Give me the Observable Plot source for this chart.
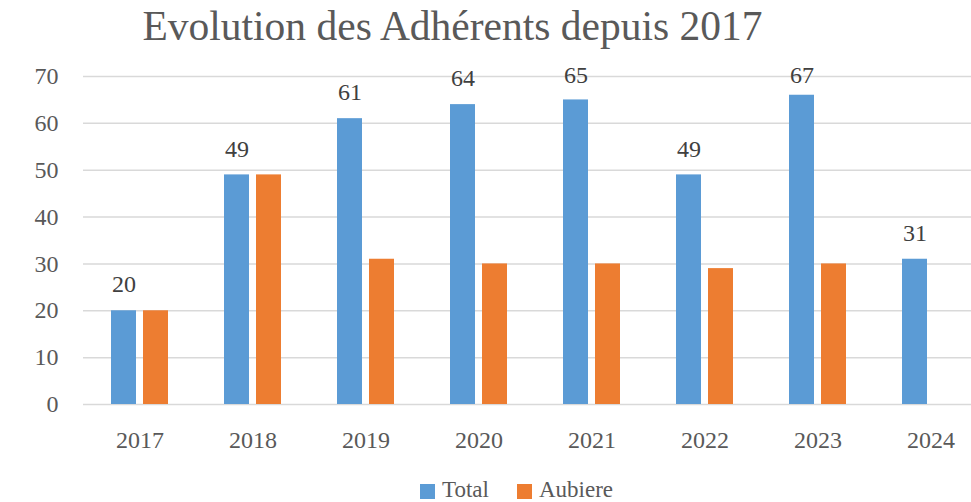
<!DOCTYPE html>
<html><head><meta charset="utf-8">
<script src="https://cdn.jsdelivr.net/npm/d3@7"></script>
<script src="https://cdn.jsdelivr.net/npm/@observablehq/plot@0.6"></script>
<style>
body{margin:0;background:#fff;}
#wrap{width:971px;height:502px;overflow:hidden;}
</style></head>
<body><div id="wrap"></div>
<script>
const title = "Evolution des Adhérents depuis 2017";
const years = ["2017","2018","2019","2020","2021","2022","2023","2024"];
const total = [20,49,61,64,65,49,66,31];
const totalLabels = ["20","49","61","64","65","49","67","31"];
const aubiere = [20,49,31,30,30,29,30,null];
const yTicks = [0,10,20,30,40,50,60,70];
const series = ["Total","Aubiere"];
const colors = ["#5b9bd5","#ed7d31"];

const totalData = years.map((y,i)=>({year:y, value:total[i], label:totalLabels[i]}));
const aubData = years.map((y,i)=>({year:y, value:aubiere[i]})).filter(d=>d.value!=null);

const font = "Liberation Serif";
const svg = Plot.plot({
  width: 971, height: 502,
  marginLeft: 83, marginRight: 0, marginTop: 76, marginBottom: 98,
  style: {fontFamily: font, background: "#fff", color: "#595959"},
  x: {type: "band", domain: years, range: [83, 987], padding: 0},
  y: {domain: [0,70]},
  marks: [
    Plot.ruleY(yTicks, {stroke: "#d9d9d9", strokeWidth: 1.5}),
    Plot.barY(totalData, {x: "year", y: "value", fill: colors[0], insetLeft: 28, insetRight: 60}),
    Plot.barY(aubData, {x: "year", y: "value", fill: colors[1], insetLeft: 60, insetRight: 28}),
    // labels kept inside the plot area, as the spreadsheet does
    Plot.text(totalData, {x: "year", y: d => Math.min(d.value, 64.6), text: "label", dx: -16, dy: -26, fontSize: 24, fill: "#404040", fontFamily: font}),
    Plot.axisY(yTicks, {tickSize: 0, tickPadding: 25, fontSize: 24, label: null, fontFamily: font}),
    Plot.axisX({tickSize: 0, tickPadding: 26, fontSize: 24, label: null, fontFamily: font})
  ]
});

const s = d3.select(svg);
s.append("text").attr("x", 452.5).attr("y", 40).attr("text-anchor", "middle")
  .attr("font-size", 41.5).attr("fill", "#595959").attr("font-family", font).text(title);

const legendX = [420, 517];
series.forEach((name, i) => {
  s.append("rect").attr("x", legendX[i]).attr("y", 484).attr("width", 15).attr("height", 15).attr("fill", colors[i]);
  s.append("text").attr("x", legendX[i] + 22).attr("y", 497).attr("font-size", 23)
    .attr("text-anchor", "start")
    .attr("fill", "#595959").attr("font-family", font).text(name);
});

document.getElementById("wrap").appendChild(svg);
</script>
</body></html>
